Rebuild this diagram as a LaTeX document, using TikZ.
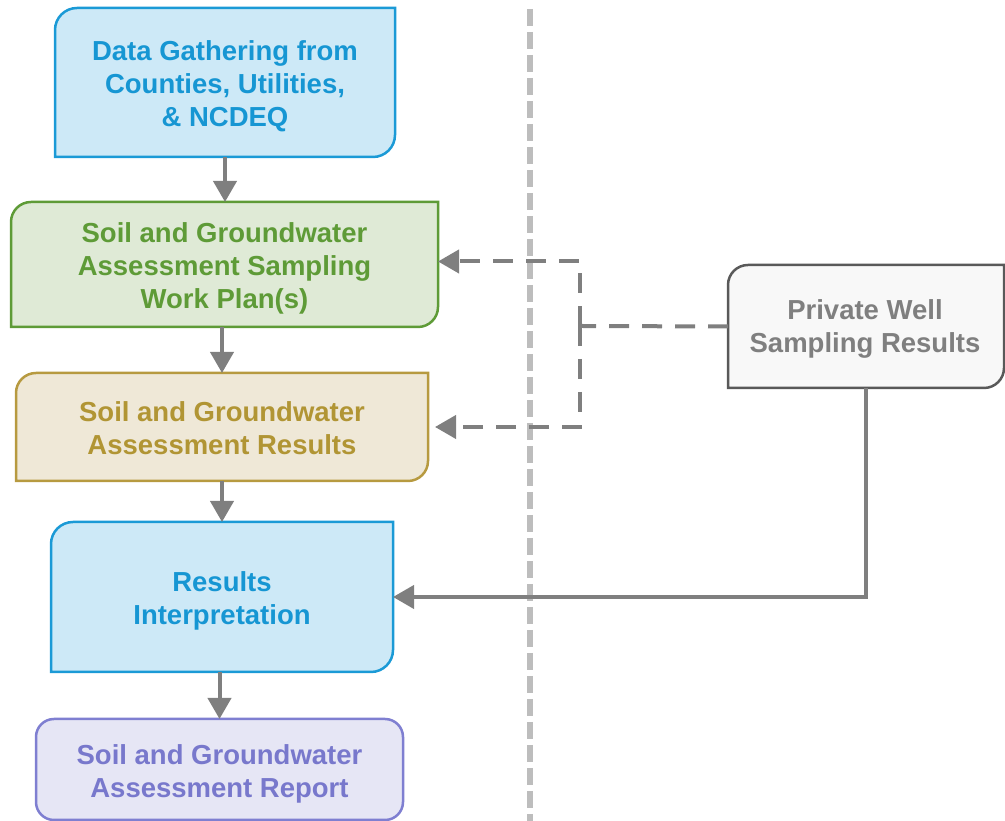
\documentclass[tikz,border=0pt]{standalone}
\usepackage{fontspec}
\setmainfont{Liberation Sans}
\usetikzlibrary{arrows.meta,backgrounds}
\definecolor{blueF}{HTML}{CDE9F7}
\definecolor{blueD}{HTML}{1B9AD6}
\definecolor{blueT}{HTML}{1696D3}
\definecolor{greenF}{HTML}{DFEAD6}
\definecolor{greenD}{HTML}{5E9B37}
\definecolor{tanF}{HTML}{EFE8D7}
\definecolor{tanD}{HTML}{B79A40}
\definecolor{tanT}{HTML}{B19534}
\definecolor{purpF}{HTML}{E6E6F5}
\definecolor{purpD}{HTML}{7F7FD1}
\definecolor{purpT}{HTML}{7878CC}
\definecolor{grayF}{HTML}{F8F8F8}
\definecolor{grayD}{HTML}{595959}
\definecolor{grayT}{HTML}{7F7F7F}
\definecolor{arrC}{HTML}{7F7F7F}
\definecolor{vlineC}{HTML}{BDBDBD}
\newcommand\myshape[3]{%
  \path[#1] (#2.south west) -- ([yshift=-#3]#2.north west)
    arc[start angle=180,end angle=90,radius=#3] -- (#2.north east)
    -- ([yshift=#3]#2.south east)
    arc[start angle=0,end angle=-90,radius=#3] -- cycle;}
\tikzset{
  box/.style={rectangle,inner sep=0pt,outer sep=0pt},
  lbl/.style={inner sep=0pt,align=center,
    font=\bfseries\fontsize{27.5}{33}\selectfont},
  arr/.style={draw=arrC,line width=4pt,-{Triangle[width=23pt,length=21pt]}},
  darr/.style={draw=arrC,line width=4pt,dash pattern=on 20pt off 13pt},
  darrtip/.style={darr,-{Triangle[width=23pt,length=21pt]}},
  vline/.style={draw=vlineC,line width=5.5pt,dash pattern=on 17pt off 6pt}
}
\begin{document}
\begin{tikzpicture}[x=1pt,y=1pt]
\useasboundingbox (0,0) rectangle (1005,821);
\draw[vline] (530,812) -- (530,0);
\node[box,minimum width=340pt,minimum height=149pt,
  label={[lbl,text=blueT,yshift=-4pt]center:{Data Gathering from\\Counties, Utilities,\\\& NCDEQ}}] (b1) at (225,738.5) {};
\node[box,minimum width=427pt,minimum height=125pt,
  label={[lbl,text=greenD,yshift=-4pt]center:{Soil and Groundwater\\Assessment Sampling\\Work Plan(s)}}] (b2) at (224.5,556.5) {};
\node[box,minimum width=412pt,minimum height=108pt,
  label={[lbl,text=tanT,yshift=-1.5pt]center:{Soil and Groundwater\\Assessment Results}}] (b3) at (222,394) {};
\node[box,minimum width=342pt,minimum height=150pt,
  label={[lbl,text=blueT,yshift=-4pt]center:{Results\\Interpretation}}] (b4) at (222,224) {};
\node[box,minimum width=367pt,minimum height=101pt,
  label={[lbl,text=purpT,yshift=-4.5pt]center:{Soil and Groundwater\\Assessment Report}}] (b5) at (219.5,51.5) {};
\node[box,minimum width=276pt,minimum height=123pt,
  label={[lbl,text=grayT,yshift=-2pt,xshift=-1pt]center:{Private Well\\Sampling Results}}] (pw) at (866,494.5) {};
\begin{scope}[on background layer]
  \myshape{fill=blueF,draw=blueD,line width=2.5pt}{b1}{22pt}
  \myshape{fill=greenF,draw=greenD,line width=2.5pt}{b2}{20pt}
  \myshape{fill=tanF,draw=tanD,line width=2.5pt}{b3}{20pt}
  \myshape{fill=blueF,draw=blueD,line width=2.5pt}{b4}{22pt}
  \myshape{fill=grayF,draw=grayD,line width=2.5pt}{pw}{20pt}
  \draw[fill=purpF,draw=purpD,line width=2.5pt,rounded corners=18pt]
    (b5.south west) rectangle (b5.north east);
\end{scope}
\draw[arr] (b1.south) -- (b1.south |- b2.north);
\draw[arr] (b3.north |- b2.south) -- (b3.north);
\draw[arr] (b3.south) -- (b4.north);
\draw[arr] (b5.north |- b4.south) -- (b5.north);
\coordinate (j) at (580,495);
\draw[darr] (pw.west) -- (j);
\draw[darrtip] (j) |- ([yshift=3pt]b2.east);
\draw[darrtip] (j) |- ([xshift=7pt]b3.east);
\draw[arr] (pw.south) |- (b4.east);
\end{tikzpicture}
\end{document}
